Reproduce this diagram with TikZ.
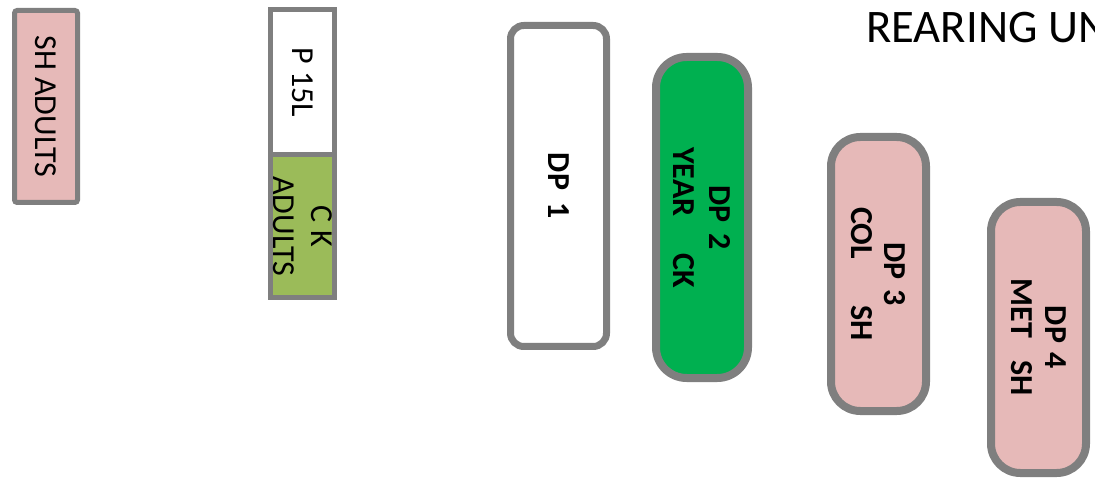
\documentclass[tikz,border=0pt]{standalone}
\usepackage{fontspec}
\setmainfont{Carlito}
\definecolor{bordergray}{HTML}{7F7F7F}
\definecolor{pinkfill}{HTML}{E6B9B8}
\definecolor{olivefill}{HTML}{9BBB59}
\definecolor{brightgreen}{HTML}{00B050}
\tikzset{
  lbl/.style={font=\fontsize{24}{28.5}\selectfont, align=center, inner sep=0pt},
  dplbl/.style={font=\fontsize{24}{27.5}\selectfont\bfseries, align=center, inner sep=0pt},
  thinbox/.style={draw=bordergray, line width=3.75pt, rotate=-90, inner sep=0pt},
  dpbox/.style={draw=bordergray, rotate=-90, inner sep=0pt},
}
\begin{document}
\begin{tikzpicture}[x=0.75pt,y=-0.75pt]
\useasboundingbox (0,0) rectangle (1095,484);
\clip (0,0) rectangle (1095,484);
% SH ADULTS
\node[thinbox, lbl, fill=pinkfill, rounded corners=2pt,
      minimum width=144pt, minimum height=47.25pt] (sh) at (46,106.5) {SH ADULTS};
% P 15L / CK ADULTS
\node[thinbox, lbl, fill=white, minimum width=109.1pt, minimum height=48pt] (p15) at (302.5,82.25) {P 15L};
\node[thinbox, lbl, fill=olivefill, minimum width=106.9pt, minimum height=48pt] (ck) at (302.5,226.25) {C K\\ADULTS};
% DP boxes
\node[dpbox, dplbl, line width=5.25pt, fill=white, rounded corners=10pt,
      minimum width=240.75pt, minimum height=72pt] (dp1) at (558.5,186) {DP\hspace{0.4em}1};
\node[dpbox, dplbl, line width=6pt, fill=brightgreen, rounded corners=23pt,
      minimum width=240.75pt, minimum height=69pt] (dp2) at (702,217.5) {DP\hspace{0.33em}2\\YEAR\hspace{1.15em}CK};
\node[dpbox, dplbl, font=\fontsize{24}{25}\selectfont\bfseries, line width=6pt, fill=pinkfill, rounded corners=22pt,
      minimum width=205.5pt, minimum height=71.25pt] (dp3) at (878.5,274) {DP\hspace{0.33em}3\\COL\hspace{1.45em}SH};
\node[dpbox, dplbl, font=\fontsize{24}{25.5}\selectfont\bfseries, line width=6pt, fill=pinkfill, rounded corners=22pt,
      minimum width=203.25pt, minimum height=71.25pt] (dp4) at (1038.5,337.5) {DP\hspace{0.3em}4\\MET\hspace{0.7em}SH};
% Title
\node[anchor=base west, inner sep=0pt, font=\fontsize{35}{40}\selectfont] (title) at (866,43) {REARING UN};
\end{tikzpicture}
\end{document}
